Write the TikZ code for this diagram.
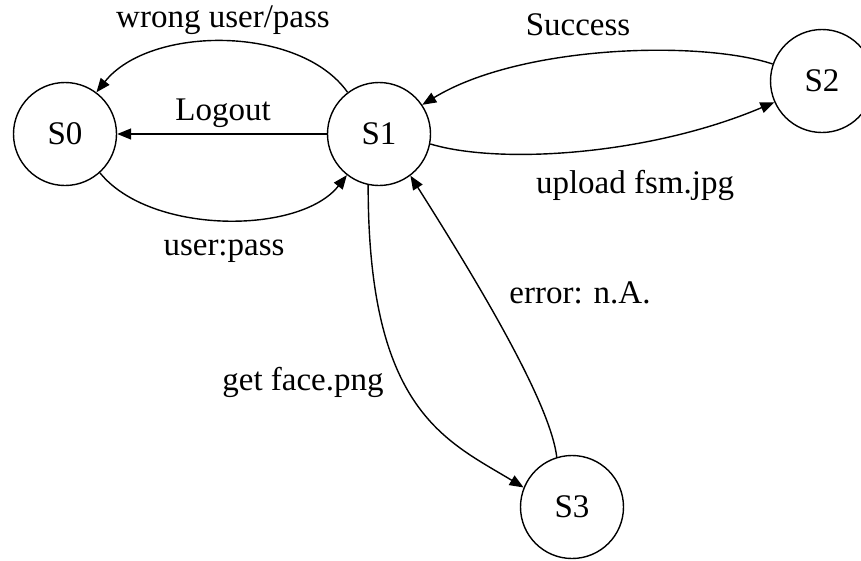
\documentclass[tikz,border=0pt]{standalone}
\usepackage{fontspec}
\setmainfont{Liberation Serif}
\usetikzlibrary{arrows.meta}
\begin{document}
\begin{tikzpicture}[x=1pt,y=-1pt,
  state/.style={draw, circle, minimum size=103pt, inner sep=0pt, line width=1.4pt, font=\fontsize{33}{40}\selectfont},
  lbl/.style={anchor=base, inner sep=0pt, font=\fontsize{33}{40}\selectfont},
  edge/.style={line width=1.4pt, -{Triangle[length=14pt,width=11pt]}}]
\useasboundingbox (0,0) rectangle (861,560);
\node[state] (S0) at (65,134) {S0};
\node[state] (S1) at (379,134) {S1};
\node[state] (S2) at (822,81) {S2};
\node[state] (S3) at (572,507) {S3};
\draw[edge] (S1.127) .. controls (300,25) and (150,25) .. (S0.53);
\draw[edge] (S1) -- (S0);
\draw[edge] (S0.-48) .. controls (150,235) and (300,235) .. (S1.232);
\draw[edge] (S2.161) .. controls (700,40) and (520,45) .. (S1.34);
\draw[edge] (S1.-11) .. controls (500,165) and (650,155) .. (S2.204);
\draw[edge] (S1.258) .. controls (368,410) and (445,440) .. (S3.158);
\draw[edge] (S3.107) .. controls (550,400) and (470,270) .. (S1.-53);
\node[lbl] (lwrong) at (223,27) {wrong user/pass};
\node[lbl] (llogout) at (223,120) {Logout};
\node[lbl] (luser) at (224,255) {user:pass};
\node[lbl] (lsucc) at (578,35) {Success};
\node[lbl] (lup) at (635,193) {upload fsm.jpg};
\node[lbl] (lerr) at (580,303) {error: n.A.};
\node[lbl] (lget) at (303,390) {get face.png};
\end{tikzpicture}
\end{document}
